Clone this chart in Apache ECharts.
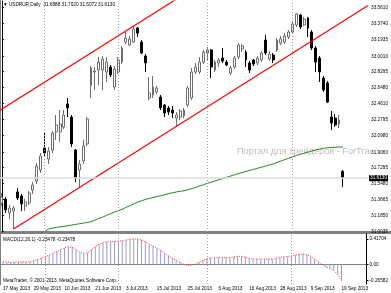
<!DOCTYPE html>
<html>
<head>
<meta charset="utf-8">
<script src="https://cdn.jsdelivr.net/npm/echarts@6/dist/echarts.min.js"></script>
<style>
html, body { margin: 0; padding: 0; background: #fff; }
#main { width: 391px; height: 293px; }
</style>
</head>
<body>
<div id="main"></div>
<script>
// USDRUR daily, 17 May - 19 Sep 2013
var dates = [
  '17 May 2013', '20 May 2013', '21 May 2013', '22 May 2013', '23 May 2013', '24 May 2013',
  '27 May 2013', '28 May 2013', '29 May 2013', '30 May 2013', '31 May 2013',
  '3 Jun 2013', '4 Jun 2013', '5 Jun 2013', '6 Jun 2013', '7 Jun 2013',
  '10 Jun 2013', '11 Jun 2013', '13 Jun 2013', '14 Jun 2013',
  '17 Jun 2013', '18 Jun 2013', '19 Jun 2013', '20 Jun 2013', '21 Jun 2013',
  '24 Jun 2013', '25 Jun 2013', '26 Jun 2013', '27 Jun 2013', '28 Jun 2013',
  '1 Jul 2013', '2 Jul 2013', '3 Jul 2013', '4 Jul 2013', '5 Jul 2013',
  '8 Jul 2013', '9 Jul 2013', '10 Jul 2013', '11 Jul 2013', '12 Jul 2013',
  '15 Jul 2013', '16 Jul 2013', '17 Jul 2013', '18 Jul 2013', '19 Jul 2013',
  '22 Jul 2013', '23 Jul 2013', '24 Jul 2013', '25 Jul 2013', '26 Jul 2013',
  '29 Jul 2013', '30 Jul 2013', '31 Jul 2013', '1 Aug 2013', '2 Aug 2013',
  '5 Aug 2013', '6 Aug 2013', '7 Aug 2013', '8 Aug 2013', '9 Aug 2013',
  '12 Aug 2013', '13 Aug 2013', '14 Aug 2013', '15 Aug 2013', '16 Aug 2013',
  '19 Aug 2013', '20 Aug 2013', '21 Aug 2013', '22 Aug 2013', '23 Aug 2013',
  '26 Aug 2013', '27 Aug 2013', '28 Aug 2013', '29 Aug 2013', '30 Aug 2013',
  '2 Sep 2013', '3 Sep 2013', '4 Sep 2013', '5 Sep 2013', '6 Sep 2013',
  '9 Sep 2013', '10 Sep 2013', '11 Sep 2013', '12 Sep 2013', '13 Sep 2013',
  '16 Sep 2013', '17 Sep 2013', '18 Sep 2013', '19 Sep 2013'
];

// open, close, low, high
var candles = [
  [31.326, 31.395, 31.292, 31.440], [31.372, 31.246, 31.212, 31.395], [31.212, 31.269, 31.144, 31.303],
  [31.235, 31.269, 31.029, 31.292], [31.452, 31.383, 31.360, 31.497], [31.406, 31.315, 31.235, 31.429],
  [31.292, 31.338, 31.235, 31.372], [31.326, 31.440, 31.303, 31.463], [31.474, 31.532, 31.429, 31.566],
  [31.577, 31.749, 31.543, 31.783], [31.703, 31.863, 31.669, 31.897], [31.954, 31.897, 31.851, 32.125],
  [31.828, 31.920, 31.771, 31.966], [31.931, 32.125, 31.897, 32.148], [32.137, 32.217, 32.046, 32.331],
  [32.137, 32.228, 32.023, 32.388], [32.194, 32.331, 32.171, 32.388], [32.457, 32.411, 32.308, 32.525],
  [32.308, 32.000, 31.966, 32.331], [31.931, 31.612, 31.566, 31.943], [31.703, 31.771, 31.497, 31.817],
  [31.806, 31.977, 31.771, 32.046], [32.000, 32.285, 31.977, 32.308], [32.673, 32.868, 32.525, 32.890],
  [32.822, 32.833, 32.616, 32.879], [32.845, 32.936, 32.673, 32.993], [32.845, 32.970, 32.616, 33.005],
  [32.822, 32.936, 32.708, 32.993], [32.879, 32.788, 32.765, 32.902], [32.651, 32.856, 32.616, 32.890],
  [32.822, 32.959, 32.799, 32.993], [32.936, 33.096, 32.913, 33.119], [33.164, 33.210, 33.142, 33.279],
  [33.130, 33.199, 33.119, 33.233], [33.164, 33.313, 33.153, 33.347], [33.324, 33.267, 33.222, 33.336],
  [33.164, 33.039, 33.027, 33.187], [33.005, 32.925, 32.822, 33.027], [32.525, 32.582, 32.502, 32.765],
  [32.559, 32.651, 32.525, 32.776], [32.594, 32.639, 32.571, 32.662], [32.536, 32.411, 32.388, 32.559],
  [32.445, 32.354, 32.308, 32.457], [32.411, 32.365, 32.331, 32.434], [32.388, 32.354, 32.297, 32.434],
  [32.297, 32.331, 32.205, 32.365], [32.308, 32.377, 32.274, 32.399], [32.320, 32.388, 32.297, 32.411],
  [32.445, 32.639, 32.422, 32.662], [32.525, 32.822, 32.502, 32.868], [32.822, 32.879, 32.799, 32.925],
  [32.822, 32.936, 32.799, 32.993], [32.936, 33.050, 32.913, 33.073], [33.039, 33.073, 32.959, 33.107],
  [33.073, 32.879, 32.753, 33.085], [32.845, 32.936, 32.822, 32.959], [32.925, 32.959, 32.879, 32.982],
  [32.982, 32.947, 32.925, 33.096], [32.936, 32.902, 32.890, 32.959], [32.810, 32.868, 32.788, 32.890],
  [32.879, 32.982, 32.856, 33.005], [32.993, 33.130, 32.970, 33.153], [33.085, 33.119, 33.050, 33.142],
  [33.050, 32.959, 32.879, 33.073], [32.925, 32.845, 32.810, 32.947], [32.959, 32.913, 32.890, 32.970],
  [32.925, 32.982, 32.902, 33.005], [32.959, 33.039, 32.936, 33.062], [33.187, 33.039, 33.016, 33.244],
  [32.970, 33.027, 32.947, 33.062], [33.016, 32.959, 32.925, 33.039], [33.073, 33.187, 33.050, 33.210],
  [33.153, 33.199, 33.130, 33.233], [33.164, 33.233, 33.142, 33.267], [33.222, 33.279, 33.199, 33.301],
  [33.279, 33.370, 33.256, 33.393], [33.359, 33.484, 33.336, 33.496], [33.473, 33.336, 33.313, 33.484],
  [33.359, 33.427, 33.347, 33.450], [33.439, 33.324, 33.222, 33.450], [33.279, 33.096, 33.073, 33.301],
  [33.096, 32.936, 32.822, 33.119], [32.982, 32.822, 32.708, 33.005], [32.753, 32.616, 32.594, 32.776],
  [32.696, 32.479, 32.468, 32.719], [32.308, 32.240, 32.160, 32.377], [32.297, 32.217, 32.194, 32.342],
  [32.228, 32.274, 32.183, 32.331], [31.6888, 31.6130, 31.5072, 31.7020]
];

// green moving average
var ma = [
  null, null, null, null, null, null, null, null, null, null, 30.985,
  31.000, 31.028, 31.040, 31.047, 31.054, 31.060, 31.067, 31.074, 31.082, 31.089,
  31.096, 31.104, 31.113, 31.130, 31.150, 31.165, 31.185, 31.205, 31.222, 31.238,
  31.254, 31.275, 31.295, 31.315, 31.335, 31.352, 31.366, 31.378, 31.389, 31.399,
  31.410, 31.420, 31.432, 31.443, 31.452, 31.460, 31.466, 31.478, 31.490, 31.505,
  31.520, 31.535, 31.550, 31.564, 31.578, 31.592, 31.606, 31.620, 31.634, 31.648,
  31.662, 31.675, 31.687, 31.699, 31.711, 31.723, 31.735, 31.747, 31.760, 31.772,
  31.790, 31.806, 31.822, 31.837, 31.853, 31.868, 31.882, 31.895, 31.908, 31.920,
  31.932, 31.942, 31.951, 31.957, 31.961, 31.963, 31.965, 31.966
];

// MACD(12,26,1)
var macd = [
  0.045, 0.040, 0.035, 0.035, 0.040, 0.040, 0.040, 0.045, 0.060, 0.080,
  0.100, 0.130, 0.150, 0.180, 0.210, 0.240, 0.270, 0.290, 0.280, 0.240,
  0.200, 0.180, 0.190, 0.240, 0.290, 0.330, 0.355, 0.370, 0.375, 0.375,
  0.380, 0.385, 0.400, 0.410, 0.417, 0.415, 0.400, 0.370, 0.330, 0.300,
  0.265, 0.230, 0.180, 0.140, 0.100, 0.065, 0.035, 0.005, -0.015, -0.012,
  0.005, 0.035, 0.065, 0.090, 0.105, 0.110, 0.110, 0.115, 0.110, 0.115,
  0.120, 0.130, 0.135, 0.120, 0.100, 0.090, 0.085, 0.085, 0.090, 0.090,
  0.090, 0.100, 0.115, 0.125, 0.130, 0.140, 0.155, 0.165, 0.170, 0.160,
  0.130, 0.090, 0.040, 0.000, -0.040, -0.065, -0.100, -0.165, -0.2658
];

var priceTicks = [33.5610, 33.3740, 33.1935, 33.0010, 32.8295, 32.6480, 32.4610, 32.2795,
  32.0980, 31.9060, 31.7295, 31.5480, 31.3665, 31.1850, 31.0035];
var macdTicks = [0.41704, 0, -0.26582];
var lastPrice = 31.6130;
var separators = ['3 Jun 2013', '1 Jul 2013', '1 Aug 2013', '2 Sep 2013'];

// equidistant channel (bar index, price)
var channelLow = [[3, 31.030], [94.5, 33.581]];
var channelHigh = [[-0.5, 32.385], [50, 33.793]];

var categories = dates.concat(['', '', '', '', '', '']);
var font = 'Liberation Sans, Arial, sans-serif';

function showLabel(index) {
  return index % 8 === 0 && index < dates.length;
}

var chart = echarts.init(document.getElementById('main'), null, { renderer: 'canvas' });

var sepStyle = { color: '#a0a0a0', type: [1, 2], width: 1 };
var sepLines = separators.map(function (d) {
  return { xAxis: d, lineStyle: sepStyle, label: { show: false } };
});

var option = {
  animation: false,
  backgroundColor: '#fff',
  textStyle: { fontFamily: font },
  grid: [
    { left: -1.5, right: 21, top: 1, height: 231 },
    { left: -1.5, right: 21, top: 234, bottom: 9 }
  ],
  xAxis: [
    { type: 'category', gridIndex: 0, data: categories, show: false },
    {
      type: 'category', gridIndex: 1, data: categories,
      axisLine: { lineStyle: { color: '#808080' } },
      axisTick: { alignWithLabel: true, interval: showLabel, length: 2, lineStyle: { color: '#000' } },
      axisLabel: {
        interval: showLabel, align: 'left', margin: 2,
        fontSize: 4.7, color: '#000', fontFamily: font
      }
    },
    { type: 'value', gridIndex: 0, min: -0.5, max: 94.5, show: false }
  ],
  yAxis: [
    {
      type: 'value', gridIndex: 0, position: 'right', min: 30.995, max: 33.633,
      splitLine: { show: false },
      axisLine: { show: true, lineStyle: { color: '#000' } },
      axisTick: { show: true, length: 2, customValues: priceTicks, lineStyle: { color: '#000' } },
      axisLabel: {
        customValues: priceTicks, margin: 3, fontSize: 4.7, color: '#000', fontFamily: font,
        formatter: function (v) { return v.toFixed(4); }
      }
    },
    {
      type: 'value', gridIndex: 1, position: 'right', min: -0.32, max: 0.497,
      splitLine: { show: false },
      axisLine: { show: true, lineStyle: { color: '#000' } },
      axisTick: { show: true, length: 2, customValues: macdTicks, lineStyle: { color: '#000' } },
      axisLabel: {
        customValues: macdTicks, margin: 3, fontSize: 4.7, color: '#000', fontFamily: font,
        formatter: function (v) {
          if (v === 0) return '0.00';
          return v.toFixed(5);
        }
      }
    }
  ],
  series: [
    {
      type: 'candlestick', xAxisIndex: 0, yAxisIndex: 0,
      data: candles, barWidth: 2.4,
      itemStyle: {
        color: '#fff', borderColor: '#6e6e6e',
        color0: '#000', borderColor0: '#000', borderWidth: 1
      },
      markLine: {
        silent: true, symbol: 'none', animation: false,
        data: sepLines.concat([{
          yAxis: lastPrice,
          lineStyle: { color: '#dcdcdc', type: 'solid', width: 1.5 },
          label: {
            show: true, position: 'end', distance: 1,
            formatter: lastPrice.toFixed(4),
            backgroundColor: '#000', color: '#fff', padding: [1, 1, 0, 1],
            fontSize: 4.7, fontFamily: font
          }
        }])
      },
      z: 3
    },
    {
      type: 'line', xAxisIndex: 0, yAxisIndex: 0, data: ma,
      showSymbol: false, symbol: 'none',
      lineStyle: { color: '#1e8a1e', width: 1 }, z: 2
    },
    {
      type: 'line', xAxisIndex: 2, yAxisIndex: 0, data: channelLow,
      showSymbol: false, symbol: 'none',
      lineStyle: { color: '#ff0000', width: 1.2 }, z: 4
    },
    {
      type: 'line', xAxisIndex: 2, yAxisIndex: 0, data: channelHigh,
      showSymbol: false, symbol: 'none',
      lineStyle: { color: '#ff0000', width: 1.2 }, z: 4
    },
    {
      type: 'bar', xAxisIndex: 1, yAxisIndex: 1, data: macd,
      barWidth: 1, itemStyle: { color: '#9a9ad8' },
      markLine: { silent: true, symbol: 'none', animation: false, data: sepLines }
    },
    {
      type: 'line', xAxisIndex: 1, yAxisIndex: 1, data: macd,
      showSymbol: false, symbol: 'none',
      lineStyle: { color: '#ff3030', width: 1, type: [1, 1.5] }
    }
  ],
  graphic: [
    // watermark, cut at the price scale
    {
      type: 'text', left: 237, top: 147, z: -2,
      style: { text: 'Портал для трейдеров - ForTrader.ru', fill: '#c9b7b7', font: '9.2px ' + font }
    },
    { type: 'rect', left: 371, top: 140, z: -1, shape: { width: 20, height: 20 }, style: { fill: '#fff' }, silent: true },
    { type: 'rect', left: 0, top: 231, shape: { width: 391, height: 3 }, style: { fill: '#808080' }, silent: true },
    { type: 'line', shape: { x1: 0.5, y1: 0, x2: 0.5, y2: 285 }, style: { stroke: '#808080', lineWidth: 1 }, silent: true },
    {
      type: 'text', left: 3, top: 2,
      style: { text: '\u25BC USDRUR,Daily  31.6888 31.7020 31.5072 31.6130', fill: '#000', font: '4.7px ' + font }
    },
    {
      type: 'text', left: 3, top: 237,
      style: { text: 'MACD(12,26,1) -0.23478 -0.23478', fill: '#000', font: '4.7px ' + font }
    },
    {
      type: 'text', left: 3, top: 278,
      style: { text: 'MetaTrader, \u00A9 2001-2013, MetaQuotes Software Corp.', fill: '#000', font: '4.7px ' + font }
    }
  ]
};

chart.setOption(option);
</script>
</body>
</html>
